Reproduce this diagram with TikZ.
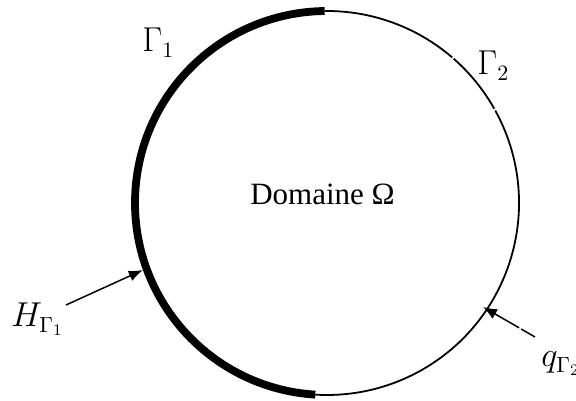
\documentclass[tikz,border=0pt]{standalone}
\usepackage{fontspec}
\setmainfont{Liberation Serif}
\usetikzlibrary{calc}
\usetikzlibrary{arrows.meta}

\begin{document}
\begin{tikzpicture}[x=0.5pt,y=0.5pt,
  thinbnd/.style={line width=0.9pt},
  thickbnd/.style={line width=3.9pt},
  lbl/.style={inner sep=0pt,font=\fontsize{16}{19}\selectfont},
  load/.style={-{Latex[length=7pt,width=5.5pt]},line width=0.75pt}]
\useasboundingbox (0,0) rectangle (576,400);
\coordinate (O) at (327,197);

% boundary Gamma_2
\draw[thinbnd] ($(O)+(90.7:96pt)$) arc[start angle=90.7, end angle=49.3, radius=96pt];
\draw[thinbnd] ($(O)+(48.7:96pt)$) arc[start angle=48.7, end angle=29.4, radius=96pt];
\draw[thinbnd] ($(O)+(28.8:96pt)$) arc[start angle=28.8, end angle=-93.5, radius=96pt];
% boundary Gamma_1
\draw[thickbnd] ($(O)+(90.7:96pt)$) arc[start angle=90.7, end angle=266.5, radius=96pt];

\node[inner sep=0pt,anchor=base,font=\fontsize{15.5}{18}\selectfont] (dom) at (322.5,195) {Domaine Ω};
\node[lbl,anchor=base west] (g1) at (142,348) {$\Gamma_1$};
\node[lbl,anchor=base west] (g2) at (477,325) {$\Gamma_2$};
\node[lbl,anchor=base west] (hlab) at (11,73) {$H_{\Gamma_1}$};
\node[lbl,anchor=base west] (qlab) at (541,33) {$q_{\Gamma_2}$};

\coordinate (htail) at (66,95);
\coordinate (htip) at ($(O)+(200:98pt)$);
\coordinate (qtail) at (535,63);
\coordinate (qtip) at (483,93);
\draw[load] (htail) -- (htip);
\draw[load,dash pattern=on 8pt off 1.2pt on 40pt off 0pt] (qtail) -- (qtip);

\end{tikzpicture}
\end{document}
